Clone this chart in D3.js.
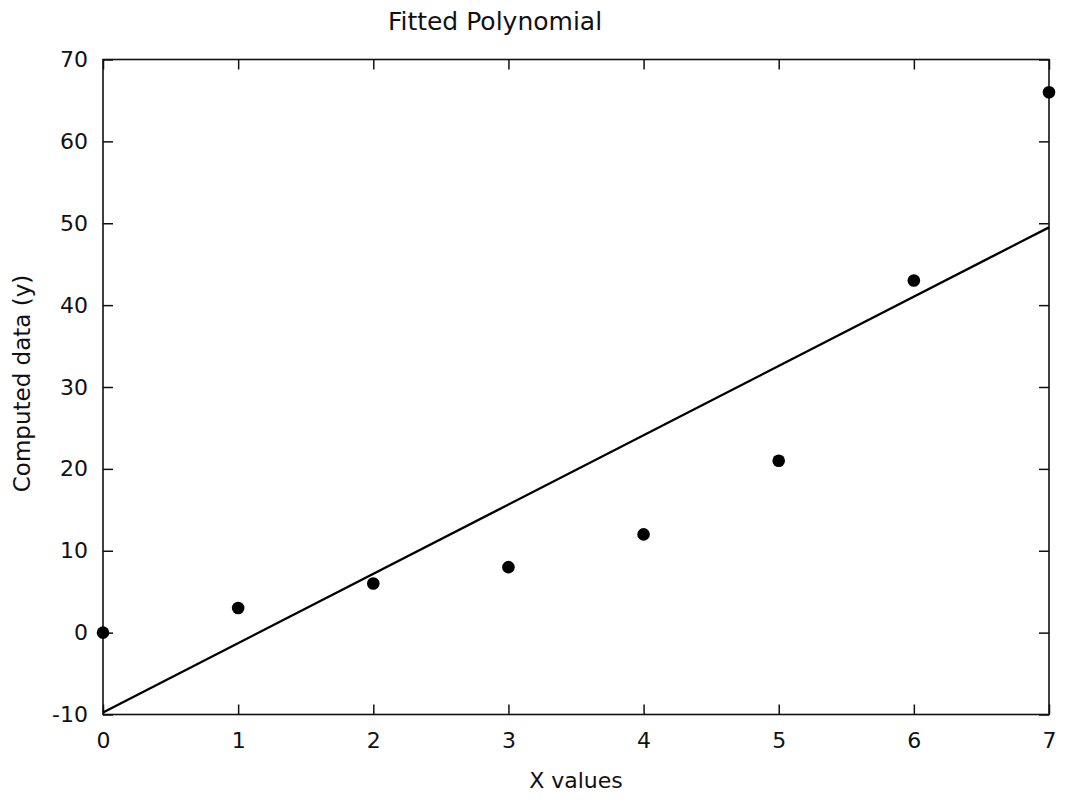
<!DOCTYPE html>
<html>
<head>
<meta charset="utf-8">
<script src="https://cdn.jsdelivr.net/npm/d3@7"></script>
<style>
  body { margin: 0; background: #fff; }
  text { font-family: "DejaVu Sans", sans-serif; fill: #111; }
</style>
</head>
<body>
<div id="chart"></div>
<script>
// data
var xValues = [0, 1, 2, 3, 4, 5, 6, 7];
var yValues = [0, 3, 6, 8, 12, 21, 43, 66];
// fitted line, value at x = 0 and x = 7
var fitX = [0, 7];
var fitY = [-9.75, 49.5];
var xTicks = [0, 1, 2, 3, 4, 5, 6, 7];
var yTicks = [-10, 0, 10, 20, 30, 40, 50, 60, 70];

var W = 1088, H = 802;
var margin = {top: 59.5, right: 39, bottom: 87.5, left: 103};
var width = W - margin.left - margin.right,
    height = H - margin.top - margin.bottom;

var svg = d3.select("#chart")
  .append("svg")
    .attr("width", W)
    .attr("height", H);

var g = svg.append("g")
    .attr("transform", "translate(" + margin.left + "," + margin.top + ")");

var x = d3.scaleLinear().domain([0, 7]).range([0, width]);
var y = d3.scaleLinear().domain([-10, 70]).range([height, 0]);

// plain hyphen for negatives, like the original
var fmt = function(d) { return String(d); };

// axes with inward ticks, mirrored on top and right
function styleAxis(sel) {
  sel.select(".domain").remove();
  sel.selectAll("line").attr("stroke", "#111").attr("stroke-width", 1.5);
  sel.selectAll("text").style("font-size", "22px").style("fill", "#111");
}

g.append("g")
  .attr("transform", "translate(0," + height + ")")
  .call(d3.axisBottom(x).tickValues(xTicks).tickFormat(fmt)
        .tickSizeInner(-10).tickSizeOuter(0).tickPadding(18))
  .call(styleAxis);

g.append("g")
  .call(d3.axisTop(x).tickValues(xTicks).tickFormat("")
        .tickSizeInner(-10).tickSizeOuter(0))
  .call(styleAxis);

g.append("g")
  .call(d3.axisLeft(y).tickValues(yTicks).tickFormat(fmt)
        .tickSizeInner(-10).tickSizeOuter(0).tickPadding(15))
  .call(styleAxis);

g.append("g")
  .attr("transform", "translate(" + width + ",0)")
  .call(d3.axisRight(y).tickValues(yTicks).tickFormat("")
        .tickSizeInner(-10).tickSizeOuter(0))
  .call(styleAxis);

// frame
g.append("rect")
  .attr("width", width)
  .attr("height", height)
  .attr("fill", "none")
  .attr("stroke", "#111")
  .attr("stroke-width", 1.6);

// fitted line
var line = d3.line()
  .x(function(d) { return x(d[0]); })
  .y(function(d) { return y(d[1]); });

g.append("path")
  .datum(d3.zip(fitX, fitY))
  .attr("d", line)
  .attr("fill", "none")
  .attr("stroke", "#000")
  .attr("stroke-width", 2.4);

// points
g.selectAll("circle.pt")
  .data(d3.zip(xValues, yValues))
  .enter()
  .append("circle")
    .attr("class", "pt")
    .attr("cx", function(d) { return x(d[0]); })
    .attr("cy", function(d) { return y(d[1]); })
    .attr("r", 6.3)
    .attr("fill", "#000");

// titles
svg.append("text")
  .attr("x", 495)
  .attr("y", 30)
  .attr("text-anchor", "middle")
  .style("font-size", "25px")
  .text("Fitted Polynomial");

svg.append("text")
  .attr("x", margin.left + width / 2)
  .attr("y", 788)
  .attr("text-anchor", "middle")
  .style("font-size", "22px")
  .text("X values");

svg.append("text")
  .attr("transform", "translate(30," + (margin.top + 324) + ") rotate(-90)")
  .attr("text-anchor", "middle")
  .style("font-size", "23px")
  .text("Computed data (y)");
</script>
</body>
</html>
